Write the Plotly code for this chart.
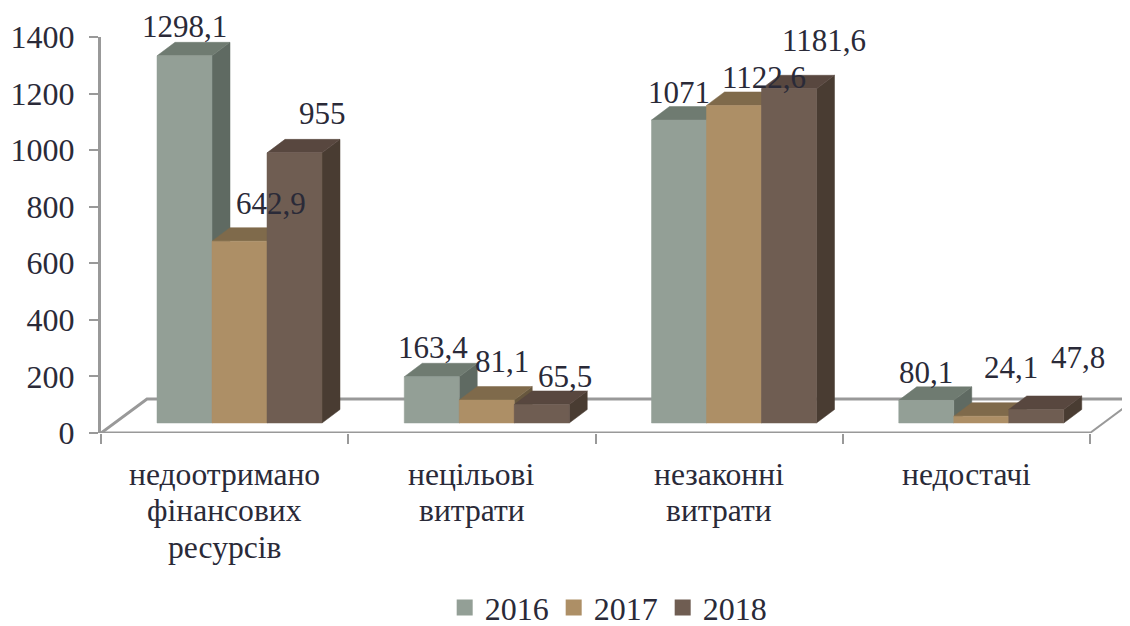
import plotly.graph_objects as go

categories = [["недоотримано", "фінансових", "ресурсів"], ["нецільові", "витрати"], ["незаконні", "витрати"], ["недостачі"]]
years = ["2016", "2017", "2018"]
values_2016 = [1298.1, 163.4, 1071, 80.1]
values_2017 = [642.9, 81.1, 1122.6, 24.1]
values_2018 = [955, 65.5, 1181.6, 47.8]
label_2016 = ["1298,1", "163,4", "1071", "80,1"]
label_2017 = ["642,9", "81,1", "1122,6", "24,1"]
label_2018 = ["955", "65,5", "1181,6", "47,8"]
y_ticks = [0, 200, 400, 600, 800, 1000, 1200, 1400]

# label offsets in pixels from the top of the bar's front face
shift_2016 = [(0, 29), (1, 29), (0, 28), (0, 28)]
shift_2017 = [(31, 38), (15, 39), (30, 28), (30, 49)]
shift_2018 = [(28, 39), (23, 28), (35, 48), (42, 52)]

front = ["#939f96", "#ad8f66", "#6f5d52"]
top = ["#6f7b71", "#7f6a4b", "#58473f"]
side = ["#5f6a62", "#67573e", "#493c32"]
AXIS = "#999999"
TEXT = "#2a2a38"
FONT = "Liberation Serif"

# the page adds an 8px body margin, so the figure is 8px smaller than the window
W, H = 1122, 618
ML, MT, MB = 93, 29, 193
PX_X = 247.25            # pixels per category
PX_Y = 396 / 1400        # pixels per value unit
X_MAX = (W - ML) / PX_X

bar_w = 55 / PX_X
group_start = 56 / PX_X  # first bar's left edge within a category slot
base = 10 / PX_Y         # floor offset of the front faces
dx, dy = 18 / PX_X, 13.5 / PX_Y
wall_dx, wall_dy = 46 / PX_X, 34 / PX_Y

series = [values_2016, values_2017, values_2018]
labels = [label_2016, label_2017, label_2018]
shifts = [shift_2016, shift_2017, shift_2018]

fig = go.Figure()

# floor / back wall outline
fig.add_trace(go.Scatter(
    x=[0, wall_dx, X_MAX + 1], y=[0, wall_dy, wall_dy], mode="lines",
    line=dict(color=AXIS, width=3), showlegend=False, hoverinfo="skip"))
fig.add_trace(go.Scatter(
    x=[4, 4 + wall_dx], y=[0, wall_dy], mode="lines",
    line=dict(color=AXIS, width=2), showlegend=False, hoverinfo="skip"))
fig.add_trace(go.Scatter(
    x=[0, 4], y=[0, 0], mode="lines", cliponaxis=False,
    line=dict(color=AXIS, width=3), showlegend=False, hoverinfo="skip"))


def poly(xs, ys, color):
    fig.add_trace(go.Scatter(
        x=xs + xs[:1], y=ys + ys[:1], mode="lines", fill="toself", fillcolor=color,
        line=dict(color=color, width=0.5), showlegend=False, hoverinfo="skip",
        cliponaxis=False))


annotations = []
for g in range(len(categories)):
    for s in range(3):
        v = series[s][g]
        x0 = g + group_start + s * bar_w
        x1 = x0 + bar_w
        y0 = base
        y1 = base + v
        poly([x1, x1 + dx, x1 + dx, x1], [y0, y0 + dy, y1 + dy, y1], side[s])
        poly([x0, x1, x1 + dx, x0 + dx], [y1, y1, y1 + dy, y1 + dy], top[s])
        poly([x0, x1, x1, x0], [y0, y0, y1, y1], front[s])
        annotations.append(dict(
            x=(x0 + x1) / 2, y=y1, text=labels[s][g], showarrow=False,
            xshift=shifts[s][g][0], yshift=shifts[s][g][1],
            xanchor="center", yanchor="middle",
            font=dict(family=FONT, size=31, color=TEXT)))
    for k, line in enumerate(categories[g]):
        annotations.append(dict(
            x=g + 0.5, y=0, text=line, showarrow=False,
            yshift=-(41 + 36.7 * k), xanchor="center", yanchor="middle",
            font=dict(family=FONT, size=31.6, color=TEXT)))

for s, year in enumerate(years):
    fig.add_trace(go.Scatter(
        x=[None], y=[None], mode="markers", name=year,
        marker=dict(symbol="square", size=16, color=front[s])))

fig.update_layout(
    width=W, height=H, autosize=False,
    margin=dict(l=ML, r=0, t=MT, b=MB, pad=0, autoexpand=False),
    paper_bgcolor="white", plot_bgcolor="white",
    font=dict(family=FONT, size=31, color=TEXT),
    annotations=annotations,
    legend=dict(orientation="h", x=0.334, xanchor="left", y=-0.441, yanchor="middle",
                entrywidth=64, entrywidthmode="pixels",
                itemclick=False, font=dict(family=FONT, size=32, color=TEXT),
                bgcolor="rgba(0,0,0,0)"),
    xaxis=dict(
        range=[0, X_MAX], showgrid=False, zeroline=False, showline=False,
        tickmode="array", tickvals=[0, 1, 2, 3, 4], showticklabels=False,
        ticks="outside", ticklen=10, tickwidth=2, tickcolor=AXIS),
    yaxis=dict(
        range=[0, 1400], showgrid=False, zeroline=False, showline=True,
        linecolor=AXIS, linewidth=3, tickmode="array", tickvals=y_ticks,
        ticks="outside", ticklen=9, tickwidth=2, tickcolor=AXIS,
        ticklabelstandoff=8, tickfont=dict(family=FONT, size=32, color=TEXT)),
)

fig.write_html("out.html")
